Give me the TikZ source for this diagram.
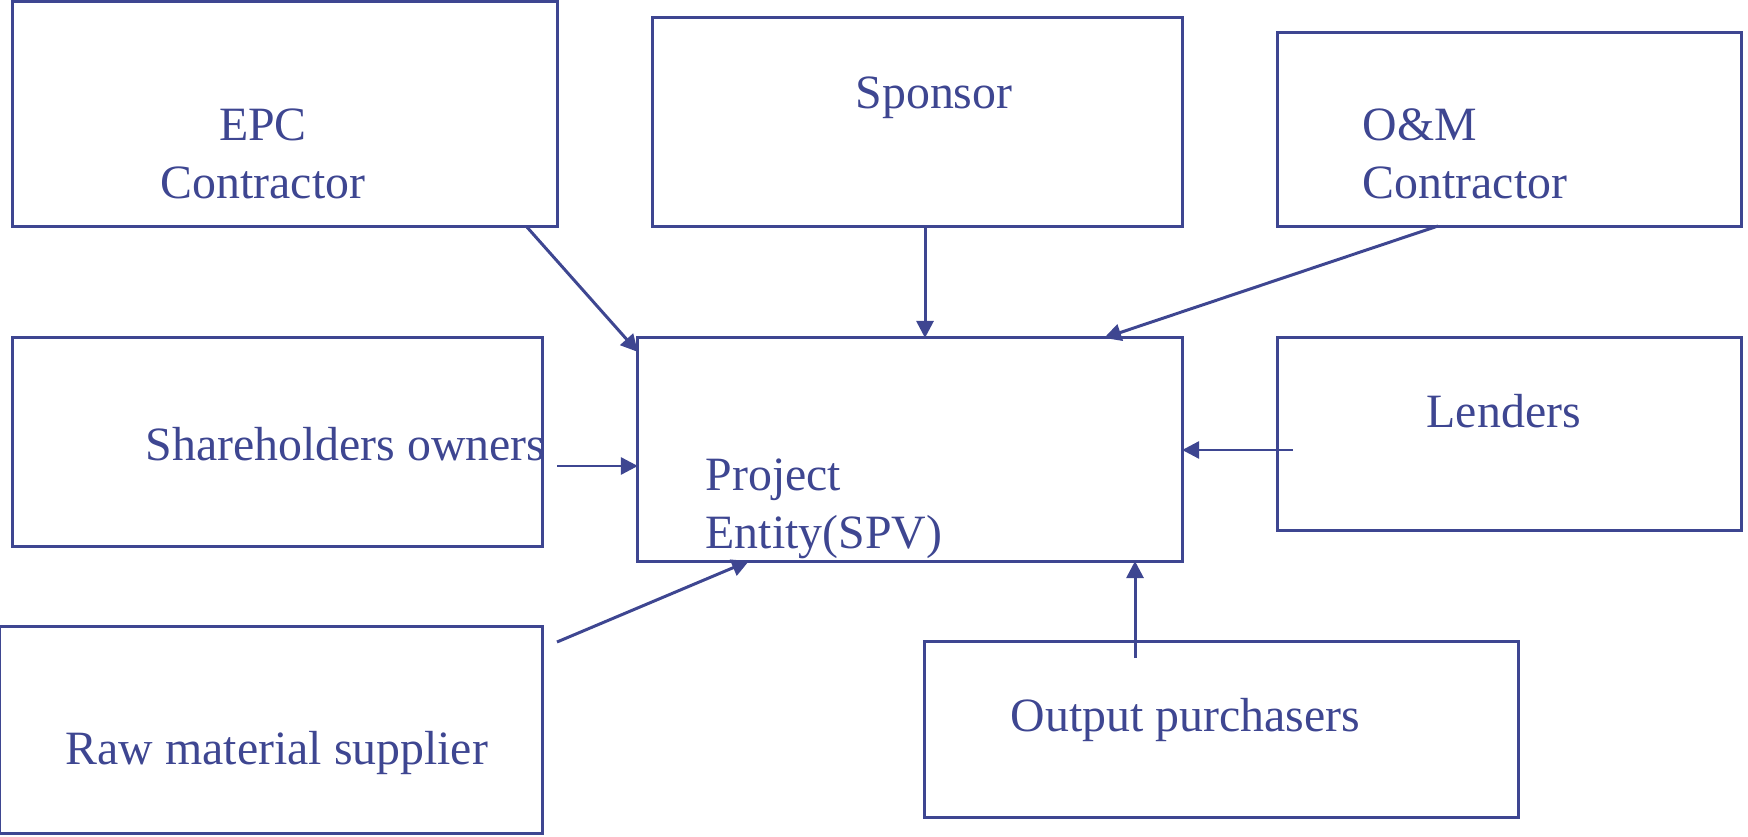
\documentclass[tikz,border=0pt]{standalone}
\usepackage{fontspec}
\setmainfont{Liberation Serif}
\usepackage{tikz}
\usetikzlibrary{arrows.meta}

\definecolor{ink}{RGB}{62,70,145}

\begin{document}
\begin{tikzpicture}[x=0.01cm,y=-0.01cm,
    box/.style={draw=ink,line width=0.85pt,rectangle,inner sep=0pt,outer sep=0pt},
    lbl/.style={text=ink,inner sep=0pt,font=\fontsize{13.6}{16.5}\selectfont},
    arr/.style={draw=ink,line width=0.85pt,-{Triangle[length=0.17cm,width=0.17cm]}}]
\useasboundingbox (0,0) rectangle (1748,837);

% boxes
\node [box,minimum width=5.44cm,minimum height=2.24cm] (epc)     at (285,114)    {};
\node [box,minimum width=5.29cm,minimum height=2.08cm] (sponsor) at (917.5,122)  {};
\node [box,minimum width=4.63cm,minimum height=1.93cm] (om)      at (1509.5,129.5) {};
\node [box,minimum width=5.29cm,minimum height=2.08cm] (share)   at (277.5,442)  {};
\node [box,minimum width=5.44cm,minimum height=2.23cm] (proj)    at (910,449.5)  {};
\node [box,minimum width=4.63cm,minimum height=1.92cm] (lenders) at (1509.5,434) {};
\node [box,minimum width=5.42cm,minimum height=2.06cm] (raw)     at (271,730)    {};
\node [box,minimum width=5.93cm,minimum height=1.75cm] (output)  at (1221.5,729.5) {};

% texts (base = last line)
\node [lbl,align=center,anchor=base] (epc-t)     at (263,199)  {EPC\\Contractor};
\node [lbl,anchor=base]              (sponsor-t) at (934,109)  {Sponsor};
\node [lbl,align=left,anchor=base west]  (om-t)   at (1362,199) {O\&M\\Contractor};
\node [lbl,anchor=base west]         (share-t)   at (145,461)  {Shareholders owners};
\node [lbl,align=left,anchor=base west]  (proj-t) at (705,549)  {Project\\Entity(SPV)};
\node [lbl,anchor=base west]         (lenders-t) at (1426,428) {Lenders};
\node [lbl,anchor=base west]         (raw-t)     at (65,764)   {Raw material supplier};
\node [lbl,anchor=base west]         (output-t)  at (1010,731) {Output purchasers};

% connectors
\coordinate (epc-out)     at (526,226);
\coordinate (sponsor-out) at (925,226);
\coordinate (om-out)      at (1438,226);
\coordinate (share-out)   at (557,466);
\coordinate (lenders-out) at (1293,450);
\coordinate (raw-out)     at (557,642);
\coordinate (output-out)  at (1135,658);

\draw [arr] (epc-out) -- ([yshift=-0.14cm]proj.north west);
\draw [arr] (sponsor-out) -- (sponsor-out |- proj.north);
\draw [arr] (om-out) -- ([xshift=-0.78cm]proj.north east);
\draw [arr] (share-out) -- (share-out -| proj.west);
\draw [arr] (lenders-out) -- (lenders-out -| proj.east);
\draw [arr] (raw-out) -- ([xshift=1.11cm]proj.south west);
\draw [arr] (output-out) -- (output-out |- proj.south);

\end{tikzpicture}
\end{document}
